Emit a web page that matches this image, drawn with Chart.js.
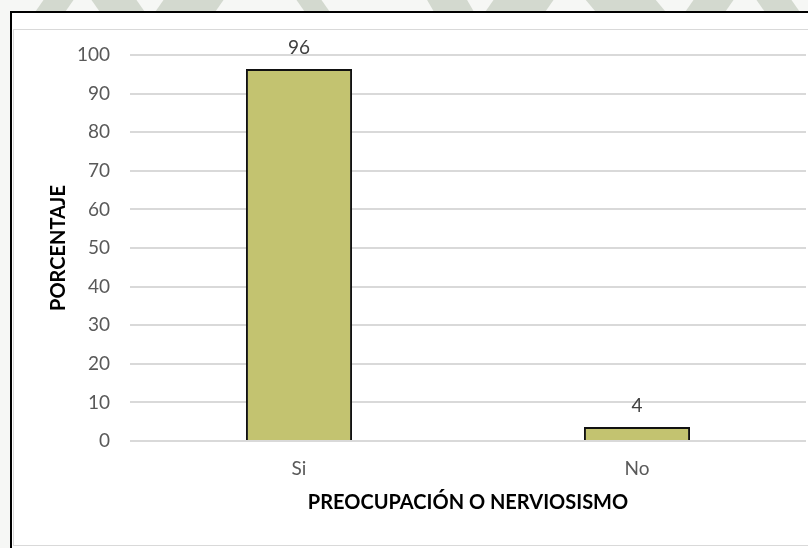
<!DOCTYPE html>
<html>
<head>
<meta charset="utf-8">
<script src="https://cdn.jsdelivr.net/npm/chart.js@4.4.1/dist/chart.umd.min.js"></script>
<style>
  html, body { margin: 0; padding: 0; background: #f6f7f5; }
  #page { position: relative; width: 808px; height: 548px; overflow: hidden; }
  .wm { position: absolute; top: -10px; height: 30px; background: #d3d9cf; transform: skewX(-35deg); }
  #frame {
    position: absolute; left: 10px; top: 11px; width: 820px; height: 560px;
    background: #fff; border-left: 2.5px solid #000; border-top: 2.5px solid #000;
  }
  #inner {
    position: absolute; left: 13px; top: 29px; width: 820px; height: 515px;
    border: 1.5px solid #d9d9d9;
  }
  canvas { position: absolute; left: 0; top: 0; }
</style>
</head>
<body>
<div id="page">
  <div class="wm" style="left:40px;width:30px"></div>
  <div class="wm" style="left:95px;width:45px;transform:skewX(35deg)"></div>
  <div class="wm" style="left:160px;width:60px"></div>
  <div class="wm" style="left:300px;width:25px;transform:skewX(35deg)"></div>
  <div class="wm" style="left:430px;width:40px;transform:skewX(30deg)"></div>
  <div class="wm" style="left:490px;width:60px"></div>
  <div class="wm" style="left:590px;width:70px;transform:skewX(40deg)"></div>
  <div class="wm" style="left:690px;width:40px"></div>
  <div class="wm" style="left:760px;width:35px;transform:skewX(35deg)"></div>
  <div id="frame"></div>
  <div id="inner"></div>
  <canvas id="chart" width="808" height="548"></canvas>
</div>
<script>
const categories = ["Si", "No"];
const percentages = [96.4, 3.6];
const yTicks = { min: 0, max: 100, step: 10 };

const FONT = "Lato, 'Liberation Sans', sans-serif";

// value labels above each bar
const barLabels = {
  id: "barLabels",
  afterDatasetsDraw(chart) {
    const ctx = chart.ctx;
    ctx.save();
    ctx.fillStyle = "#404040";
    ctx.font = "19px " + FONT;
    ctx.textAlign = "center";
    ctx.textBaseline = "bottom";
    chart.getDatasetMeta(0).data.forEach((bar, i) => {
      ctx.fillText(Math.round(percentages[i]), bar.x, bar.y - 12);
    });
    ctx.restore();
  },
};

new Chart(document.getElementById("chart"), {
  type: "bar",
  data: {
    labels: categories,
    datasets: [
      {
        data: percentages,
        backgroundColor: "#c3c370",
        borderColor: "#111",
        borderWidth: 2,
        categoryPercentage: 1,
        barPercentage: 0.314,
      },
    ],
  },
  options: {
    responsive: false,
    animation: false,
    layout: { padding: { left: 14, right: 2, top: 55, bottom: 0 } },
    plugins: { legend: { display: false }, tooltip: { enabled: false } },
    scales: {
      x: {
        grid: { display: false },
        border: { display: false },
        ticks: { color: "#595959", font: { family: FONT, size: 19 }, padding: 8 },
        title: {
          display: true,
          text: "PREOCUPACIÓN O NERVIOSISMO",
          color: "#000",
          font: { family: FONT, size: 20, weight: "bold" },
          padding: { top: 0, bottom: 33 },
        },
        afterFit(scale) { scale.height = 107; },
      },
      y: {
        min: yTicks.min,
        max: yTicks.max,
        ticks: {
          stepSize: yTicks.step,
          color: "#595959",
          font: { family: FONT, size: 19 },
          padding: 20,
        },
        grid: { color: "#d9d9d9", lineWidth: 2, drawTicks: false },
        border: { display: false },
        title: {
          display: true,
          text: "PORCENTAJE",
          color: "#000",
          font: { family: FONT, size: 20, weight: "bold" },
          padding: { top: 33, bottom: 0 },
        },
        afterFit(scale) { scale.width = 116; },
      },
    },
  },
  plugins: [barLabels],
});
</script>
</body>
</html>
